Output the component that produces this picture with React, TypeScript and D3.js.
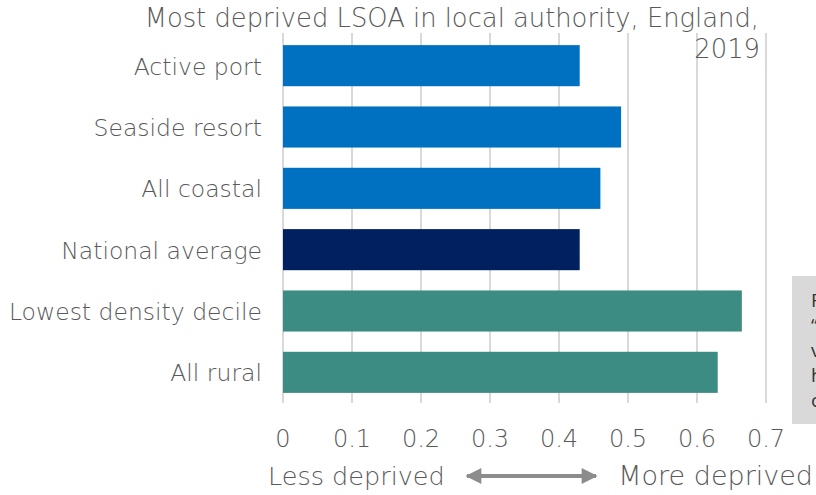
import React from "react";
import * as d3 from "d3";

const categories = ["Active port", "Seaside resort", "All coastal", "National average", "Lowest density decile", "All rural"];
const values = [0.43, 0.49, 0.46, 0.43, 0.665, 0.63];
const barColors = ["#0070C0", "#0070C0", "#0070C0", "#002060", "#3D8C84", "#3D8C84"];
const xTicks = [0, 0.1, 0.2, 0.3, 0.4, 0.5, 0.6, 0.7];
const titleLines = ["Most deprived LSOA in local authority, England,", "2019"];
const noteLines = ["R", "\u201C", "v", "h", "c"];

const FONT = "'DejaVu Sans', sans-serif";
const TXT = "#595959";

export default function App() {
  const x = d3.scaleLinear().domain([0, 0.7]).range([283, 766]);
  const y = d3.scaleBand<string>().domain(categories).range([35, 403]).paddingInner(0.33).paddingOuter(0.165);
  return (
    <svg width={816} height={495} style={{ position: "absolute", left: 0, top: 0, background: "#fff" }} fontFamily={FONT} fontWeight={200}>
      {xTicks.map((t) => (
        <line key={"g" + t} x1={x(t)} x2={x(t)} y1={33} y2={403} stroke="#d9d9d9" strokeWidth={2} />
      ))}
      {categories.map((c, i) => (
        <rect key={c} x={x(0)} y={y(c)} width={x(values[i]) - x(0)} height={y.bandwidth()} fill={barColors[i]} />
      ))}
      {categories.map((c) => (
        <text key={"l" + c} x={262} y={(y(c) as number) + y.bandwidth() / 2 + 9} textAnchor="end" fontSize={23.5} fill={TXT}>
          {c}
        </text>
      ))}
      {xTicks.map((t) => (
        <text key={"t" + t} x={x(t)} y={447} textAnchor="middle" fontSize={24} fill={TXT}>
          {d3.format("")(t)}
        </text>
      ))}
      <text x={759} y={27} textAnchor="end" fontSize={25.8} fill={TXT}>{titleLines[0]}</text>
      <text x={760} y={58} textAnchor="end" fontSize={25.8} fill={TXT}>{titleLines[1]}</text>
      <text x={268} y={485} fontSize={25.5} fill={TXT}>Less deprived</text>
      <text x={813} y={485} textAnchor="end" fontSize={27} fill={TXT}>More deprived</text>
      <defs>
        <marker id="ah" viewBox="0 0 10 10" refX="9" refY="5" markerWidth="4.5" markerHeight="4" orient="auto-start-reverse">
          <path d="M0,0 L10,5 L0,10 Z" fill="#8c8c8c" />
        </marker>
      </defs>
      <line x1={467} x2={596} y1={476} y2={476} stroke="#8c8c8c" strokeWidth={4} markerStart="url(#ah)" markerEnd="url(#ah)" />
      <rect x={792} y={276} width={40} height={148} fill="#d9d9d9" />
      {noteLines.map((s, i) => (
        <text key={"n" + i} x={811} y={307 + i * 25} fontSize={19} fontWeight={400} fill="#333" fontFamily="'Open Sans', sans-serif">{s}</text>
      ))}
    </svg>
  );
}
